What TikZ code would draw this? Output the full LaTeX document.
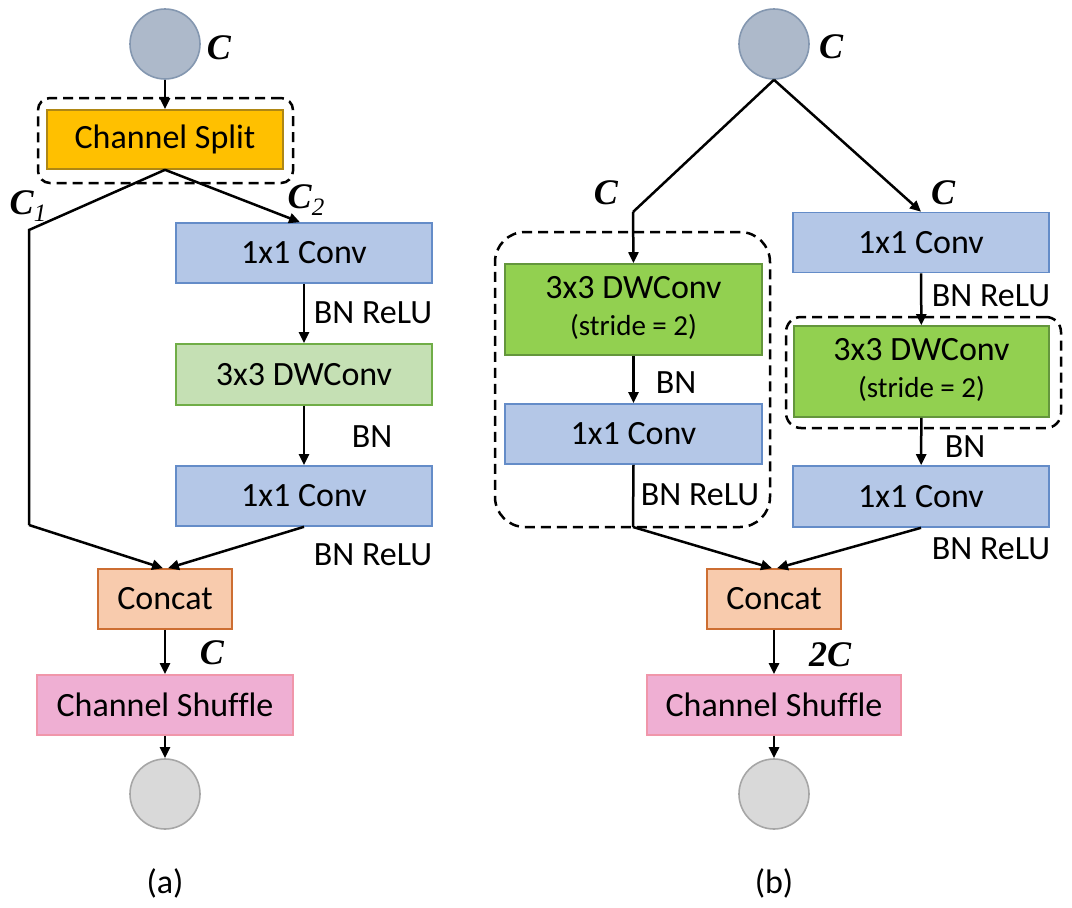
\documentclass[tikz,border=0pt]{standalone}
\usepackage{fontspec}
\setmainfont{Carlito}[Ligatures=NoCommon]
\newfontfamily\tnr{Liberation Serif}
\usetikzlibrary{arrows.meta}
\definecolor{inFill}{RGB}{173,185,202}
\definecolor{inDraw}{RGB}{132,151,176}
\definecolor{outFill}{RGB}{217,217,217}
\definecolor{outDraw}{RGB}{166,166,166}
\definecolor{splitFill}{RGB}{255,192,0}
\definecolor{splitDraw}{RGB}{175,135,20}
\definecolor{blueFill}{RGB}{180,199,231}
\definecolor{blueDraw}{RGB}{100,140,200}
\definecolor{lgFill}{RGB}{197,224,180}
\definecolor{lgDraw}{RGB}{112,173,71}
\definecolor{gFill}{RGB}{146,208,80}
\definecolor{gDraw}{RGB}{100,150,60}
\definecolor{catFill}{RGB}{248,203,173}
\definecolor{catDraw}{RGB}{205,110,50}
\definecolor{shFill}{RGB}{239,175,211}
\definecolor{shDraw}{RGB}{240,150,170}
\begin{document}
\begin{tikzpicture}[x=1pt,y=-1pt,
  box/.style={draw, line width=1.6pt, minimum width=256pt, minimum height=60pt, inner sep=0pt, font=\fontsize{34}{38}\selectfont},
  dwtwo/.style={box, align=center, minimum height=91pt, font=\fontsize{34}{38}\selectfont},
  circ/.style={circle, minimum size=70pt, inner sep=0pt, line width=1.6pt},
  arr/.style={line width=2.5pt, -{Triangle[length=11pt,width=10pt]}},
  ln/.style={line width=2.5pt},
  lab/.style={font=\fontsize{34}{38}\selectfont, inner sep=0pt},
  clab/.style={font=\tnr\bfseries\itshape\fontsize{36}{40}\selectfont, inner sep=0pt},
  grp/.style={draw, line width=2.5pt, dash pattern=on 10pt off 6pt, inner sep=0pt}
]
\useasboundingbox (0,0) rectangle (1072,908);

% ---------------- (a) ----------------
\node[grp, rounded corners=12pt, minimum width=255pt, minimum height=85pt] (grpA) at (165.5,140.5) {};
\node[circ, fill=inFill, draw=inDraw] (inA) at (165,44) {};
\node[box, fill=splitFill, draw=splitDraw, minimum width=236pt, minimum height=59pt] (split) at (165,139.5) {Channel Split};
\node[box, fill=blueFill, draw=blueDraw] (conv1a) at (304,253) {1x1 Conv};
\node[box, fill=lgFill, draw=lgDraw, minimum height=61pt] (dwa) at (304,374.5) {3x3 DWConv};
\node[box, fill=blueFill, draw=blueDraw] (conv2a) at (304,496) {1x1 Conv};
\node[box, fill=catFill, draw=catDraw, minimum width=134pt] (cata) at (165,599) {Concat};
\node[box, fill=shFill, draw=shDraw] (shufa) at (165,705) {Channel Shuffle};
\node[circ, fill=outFill, draw=outDraw] (outa) at (165,794) {};

\coordinate (aL1) at (29,230);
\coordinate (aL2) at (29,525);

\draw[arr] (inA) -- (split);
\draw[ln] (split.south) -- (aL1) -- (aL2);
\draw[arr] (aL2) -- ([xshift=-2pt]cata.north);
\draw[arr] (split.south) -- ([xshift=-4pt]conv1a.north);
\draw[arr] (conv1a) -- (dwa);
\draw[arr] (dwa) -- (conv2a);
\draw[arr] (conv2a.south) -- ([xshift=3pt]cata.north);
\draw[arr] (cata) -- (shufa);
\draw[arr] (shufa) -- (outa);

\node[clab] (lCa) at (219,48) {C};
\node[clab] (lC1) at (28,206) {C\raisebox{-7pt}{\mdseries\fontsize{25}{25}\selectfont 1}};
\node[clab] (lC2) at (306,200) {C\raisebox{-7pt}{\mdseries\fontsize{25}{25}\selectfont 2}};
\node[lab] (la1) at (373,313) {BN ReLU};
\node[lab] (la2) at (372,437) {BN};
\node[lab] (la3) at (373,555) {BN ReLU};
\node[clab] (lCa2) at (212,653) {C};
\node[lab] (capA) at (165,883) {(a)};

% ---------------- (b) ----------------
\node[grp, rounded corners=30pt, minimum width=275pt, minimum height=295pt] (grpBL) at (632.5,379.5) {};
\node[grp, rounded corners=15pt, minimum width=275pt, minimum height=111pt] (grpBR) at (923.5,372.5) {};
\node[circ, fill=inFill, draw=inDraw] (inB) at (774,44) {};
\node[dwtwo, fill=gFill, draw=gDraw, minimum width=257pt] (dwbL) at (633.5,309.5) {\raisebox{-4pt}{\begin{tabular}{@{}c@{}}3x3 DWConv\\[-1pt]{\fontsize{29}{33}\selectfont (stride = 2)}\end{tabular}}};
\node[box, fill=blueFill, draw=blueDraw, minimum width=257pt] (conv1bL) at (633.5,434) {1x1 Conv};
\node[box, fill=blueFill, draw=blueDraw] (conv1bR) at (921,242.5) {1x1 Conv};
\node[dwtwo, fill=gFill, draw=gDraw, minimum width=255pt] (dwbR) at (921.5,371.5) {\raisebox{-2pt}{\begin{tabular}{@{}c@{}}3x3 DWConv\\[-1pt]{\fontsize{29}{33}\selectfont (stride = 2)}\end{tabular}}};
\node[box, fill=blueFill, draw=blueDraw, minimum height=61pt] (conv2bR) at (921,496.5) {1x1 Conv};
\node[box, fill=catFill, draw=catDraw, minimum width=134pt] (catb) at (774,599) {Concat};
\node[box, fill=shFill, draw=shDraw, minimum width=254pt] (shufb) at (774,705) {Channel Shuffle};
\node[circ, fill=outFill, draw=outDraw] (outb) at (774,794) {};

\coordinate (bL1) at (633,212);
\coordinate (bL2) at (633,527);

\draw[ln] (inB.south) -- (bL1);
\draw[arr] (bL1) -- (dwbL.north);
\draw[arr] (inB.south) -- (conv1bR.north);
\draw[arr] (dwbL) -- (conv1bL);
\draw[ln] (conv1bL.south) -- (bL2);
\draw[arr] (bL2) -- ([xshift=-2pt]catb.north);
\draw[arr] (conv1bR) -- (dwbR);
\draw[arr] (dwbR) -- (conv2bR);
\draw[arr] (conv2bR.south) -- ([xshift=3pt]catb.north);
\draw[arr] (catb) -- (shufb);
\draw[arr] (shufb) -- (outb);

\node[clab] (lCb) at (831,47) {C};
\node[clab] (lCbL) at (606,193) {C};
\node[clab] (lCbR) at (943,193) {C};
\node[lab] (lb1) at (991,296) {BN ReLU};
\node[lab] (lb2) at (676,383) {BN};
\node[lab] (lb3) at (700,495) {BN ReLU};
\node[lab] (lb4) at (965,447) {BN};
\node[lab] (lb5) at (991,549) {BN ReLU};
\node[clab] (l2C) at (830,655) {2C};
\node[lab] (capB) at (774,883) {(b)};
\end{tikzpicture}
\end{document}
